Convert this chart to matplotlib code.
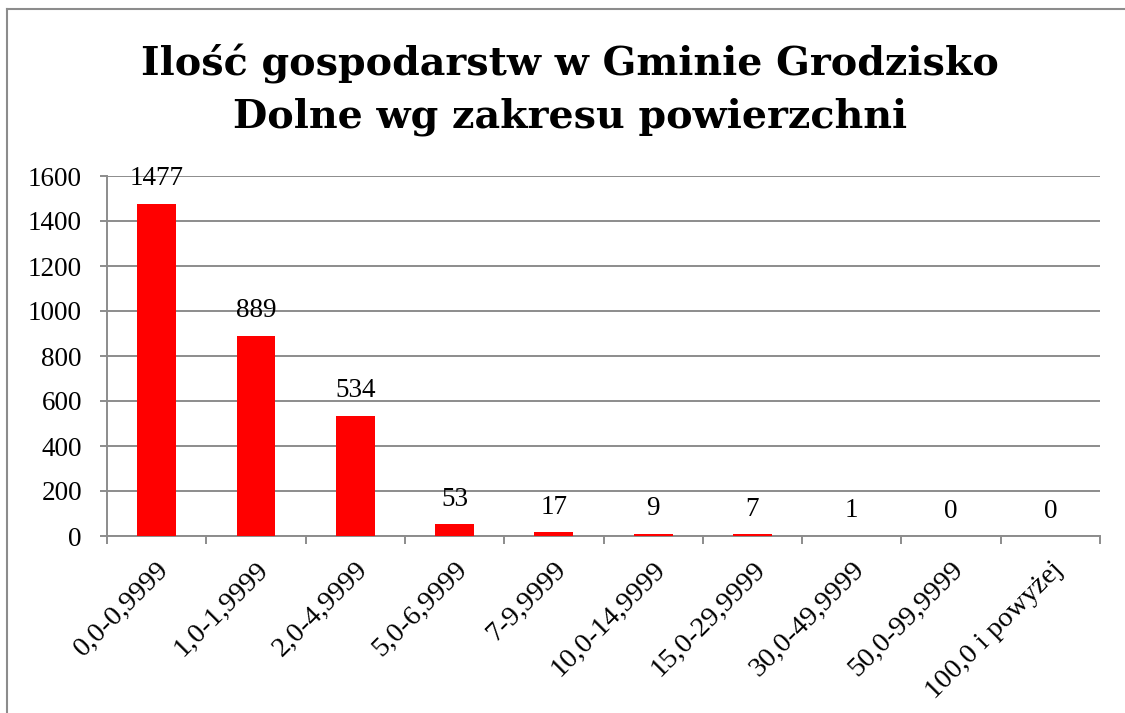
import numpy as np
import matplotlib.pyplot as plt
from matplotlib.lines import Line2D

categories = ["0,0-0,9999", "1,0-1,9999", "2,0-4,9999", "5,0-6,9999", "7-9,9999",
              "10,0-14,9999", "15,0-29,9999", "30,0-49,9999", "50,0-99,9999", "100,0 i powyżej"]
counts = [1477, 889, 534, 53, 17, 9, 7, 1, 0, 0]
yticks = [0, 200, 400, 600, 800, 1000, 1200, 1400, 1600]
title = "Ilość gospodarstw w Gminie Grodzisko\nDolne wg zakresu powierzchni"

plt.rcParams['font.family'] = ['Liberation Serif', 'DejaVu Serif']
grid_col = '#8c8c8c'
fs = 19.5

fig = plt.figure(figsize=(11.25, 7.13), dpi=100)
ax = fig.add_axes([107 / 1125, 1 - 536 / 713, 993 / 1125, 360 / 713])

x = np.arange(len(categories))
ax.bar(x, counts, width=0.39, color='#ff0000', zorder=3)
for xi, v in zip(x, counts):
    ax.annotate(str(v), (xi, v), xytext=(0, 9), textcoords='offset points',
                ha='center', va='bottom', fontsize=fs, zorder=4)

ax.set_xlim(-0.5, len(categories) - 0.5)
ax.set_ylim(0, 1600)
ax.set_yticks(yticks)
ax.set_yticklabels([str(t) for t in yticks], fontsize=fs)
ax.yaxis.grid(True, color=grid_col, linewidth=1.4, zorder=0)

# category ticks at boundaries, labels at centres
ax.set_xticks(np.arange(len(categories) + 1) - 0.5)
ax.set_xticklabels([])
ax.set_xticks(x, minor=True)
ax.set_xticklabels(categories, minor=True, rotation=45, ha='right', rotation_mode='anchor',
                   fontsize=20.5)
ax.tick_params(axis='x', which='minor', length=0, pad=15)
ax.tick_params(axis='x', which='major', length=5.5, color=grid_col, width=1.4)
ax.tick_params(axis='y', length=5, color=grid_col, width=1.4, pad=13)

for s in ['top', 'right']:
    ax.spines[s].set_visible(False)
for s in ['left', 'bottom']:
    ax.spines[s].set_color(grid_col)
    ax.spines[s].set_linewidth(1.4)

fig.text(570 / 1125, 1 - 90 / 713, title, ha='center', va='center', fontsize=28.5,
         fontweight='bold', family='DejaVu Serif', linespacing=1.45)

# chart frame (only top and left edges fall inside the picture)
fig.add_artist(Line2D([7 / 1125, 1.0], [1 - 9 / 713, 1 - 9 / 713], color='#8c8c8c', lw=1.5,
                      transform=fig.transFigure))
fig.add_artist(Line2D([7 / 1125, 7 / 1125], [1 - 9 / 713, 0.0], color='#8c8c8c', lw=1.5,
                      transform=fig.transFigure))

fig.savefig('out.png', dpi=100)
